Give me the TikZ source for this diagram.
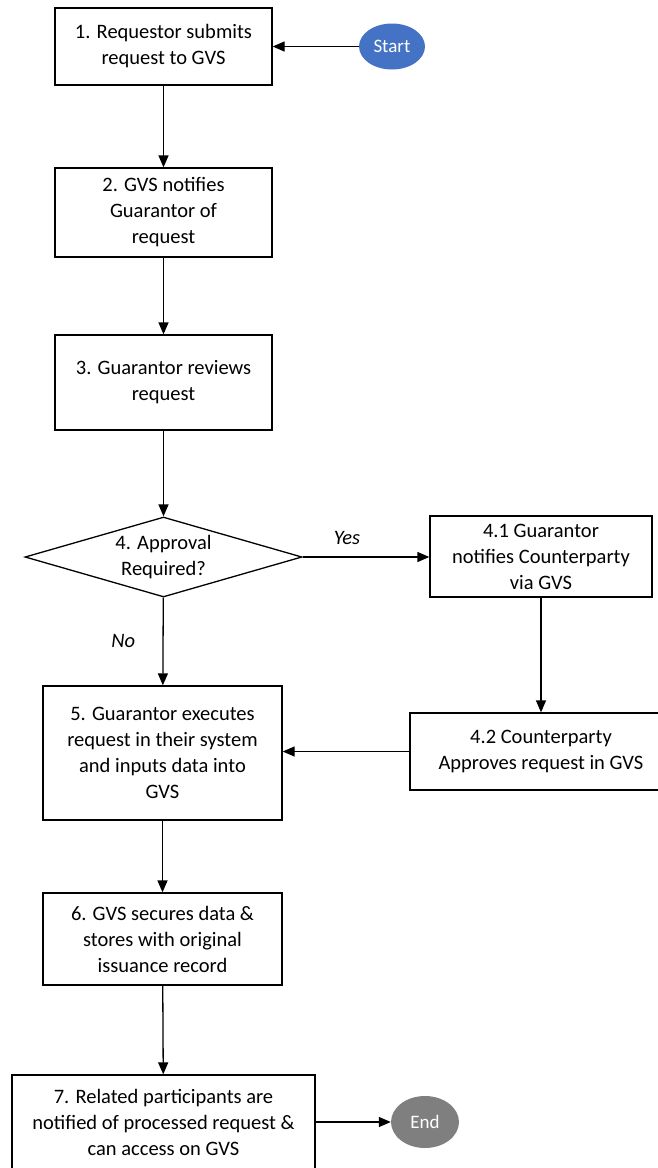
\documentclass[tikz,border=0pt]{standalone}
\usepackage{fontspec}
\setmainfont{Carlito}
\usetikzlibrary{arrows.meta,shapes.geometric}
\definecolor{startblue}{HTML}{4472C4}
\definecolor{endgray}{HTML}{7F7F7F}
\begin{document}
\begin{tikzpicture}[x=1pt,y=-1pt,
  every node/.style={font=\fontsize{20.5pt}{26pt}\selectfont},
  box/.style={draw=black,line width=1.3pt,fill=white,align=center,inner sep=2pt},
  term/.style={ellipse,text=white,inner sep=0pt,font=\fontsize{19pt}{22pt}\selectfont},
  conn/.style={line width=1.3pt,-{Triangle[length=12pt,width=10pt]}},
  lbl/.style={font=\fontsize{20.5pt}{26pt}\selectfont\itshape}]
\useasboundingbox (0,0) rectangle (658,1168);
\clip (0,0) rectangle (658,1168);
\node[box,minimum width=217pt,minimum height=77pt] (b1) at (163.5,46.5) {1. Requestor submits\\request to GVS};
\node[term,fill=startblue,minimum width=66pt,minimum height=46pt] (start) at (392,46.5) {Start};
\node[box,minimum width=217pt,minimum height=89pt] (b2) at (163.5,212.5) {2. GVS notifies\\Guarantor of\\request};
\node[box,minimum width=217pt,minimum height=95pt] (b3) at (163.5,382.5) {3. Guarantor reviews\\request};
\node[diamond,draw=black,line width=1.3pt,minimum width=277pt,minimum height=80pt,inner sep=0pt] (d) at (163.5,557) {};
\node[align=center] (dt) at (163.5,557) {4. Approval\\Required?};
\node[box,minimum width=222pt,minimum height=81pt] (b41) at (541,556.5) {4.1 Guarantor\\notifies Counterparty\\via GVS};
\node[box,minimum width=262pt,minimum height=77pt] (b42) at (541,751.5) {4.2 Counterparty\\Approves request in GVS};
\node[box,minimum width=239pt,minimum height=134pt] (b5) at (162.5,753) {5. Guarantor executes\\request in their system\\and inputs data into\\GVS};
\node[box,minimum width=239pt,minimum height=92pt] (b6) at (162.5,939) {6. GVS secures data \&\\stores with original\\issuance record};
\node[box,minimum width=303pt,minimum height=94pt] (b7) at (163.5,1122) {7. Related participants are\\notified of processed request \&\\can access on GVS};
\node[term,fill=endgray,minimum width=68pt,minimum height=52pt] (end) at (425,1122) {End};
\draw[conn] (start) -- (b1);
\draw[conn] (b1) -- (b2);
\draw[conn] (b2) -- (b3);
\draw[conn] (b3) -- (d);
\draw[conn] (d.east) -- node[lbl,above=8pt,pos=0.35] (yes) {Yes} (b41.west |- d.east);
\draw[conn] (d) -- node[lbl,pos=0.5,left=24pt] (no) {No} (b5);
\draw[conn] (b41) -- (b42);
\draw[conn] (b42.west) -- (b5.east |- b42.west);
\draw[conn] (b5) -- (b6);
\draw[conn] (b6) -- (b7);
\draw[conn] (b7) -- (end);
\end{tikzpicture}
\end{document}
